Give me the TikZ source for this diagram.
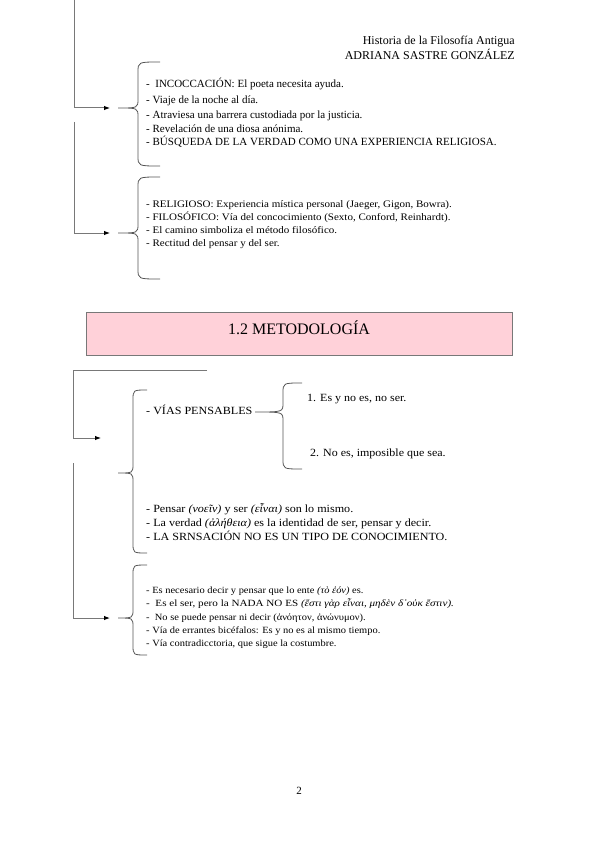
\documentclass[tikz,border=0pt]{standalone}
\usepackage{graphicx}
\usepackage{fontspec}
\setmainfont{Liberation Serif}
\usetikzlibrary{arrows.meta}
\definecolor{linegray}{RGB}{120,120,120}
\definecolor{bracegray}{RGB}{85,85,85}
\definecolor{pinkfill}{RGB}{255,209,217}
\definecolor{boxborder}{RGB}{120,120,120}
\newcommand\lbrc[6]{% tipx, tipy, vx, endx, top, bottom
  \draw[bracestyle] (#4,#5) .. controls (#3,#5) .. (#3,#5+10) -- (#3,#2-9)
    .. controls (#3,#2) .. (#1,#2) .. controls (#3,#2) .. (#3,#2+9)
    -- (#3,#6-10) .. controls (#3,#6) .. (#4,#6);}
\newcommand\hs[2]{\scalebox{#1}[1]{#2}}
\begin{document}
\begin{tikzpicture}[x=1pt,y=-1pt,
  conn/.style={draw=linegray,line width=1pt},
  arr/.style={conn,-{Latex[length=6pt,width=4.5pt,color=black]}},
  bracestyle/.style={draw=bracegray,line width=0.8pt},
  txt/.style={anchor=base west,inner sep=0pt,font=\fontsize{11}{13}\selectfont},
  txts/.style={anchor=base west,inner sep=0pt,font=\fontsize{10}{12}\selectfont},
  txtxs/.style={anchor=base west,inner sep=0pt,font=\fontsize{9.5}{11}\selectfont},
  hdr/.style={anchor=base east,inner sep=0pt,font=\fontsize{12}{14}\selectfont}]
\useasboundingbox (0,0) rectangle (599,848);
% header
\node[hdr] (h1) at (515,45) {Historia de la Filosofía Antigua};
\node[hdr] (h2) at (515,60) {ADRIANA SASTRE GONZÁLEZ};
% section 1 connectors
\coordinate (s1a) at (74,0);
\coordinate (s1b) at (74,108);
\coordinate (t1) at (110,108);
\draw[arr] (s1a) -- (s1b) -- (t1);
\coordinate (s2a) at (74,122);
\coordinate (s2b) at (74,233);
\coordinate (t2) at (110,233);
\draw[arr] (s2a) -- (s2b) -- (t2);
% braces section 1
\lbrc{118}{108}{138}{160}{62}{166}
\lbrc{118}{233}{138}{160}{177}{279}
% texts block 1
\node[txt] (a1) at (146,88) {-\ \ INCOCCACIÓN: El poeta necesita ayuda.};
\node[txt] (a2) at (146,103) {- Viaje de la noche al día.};
\node[txt] (a3) at (146,118) {- Atraviesa una barrera custodiada por la justicia.};
\node[txt] (a4) at (146,132) {- Revelación de una diosa anónima.};
\node[txt] (a5) at (146,146) {- BÚSQUEDA DE LA VERDAD COMO UNA EXPERIENCIA RELIGIOSA.};
% texts block 2
\node[txts] (b1) at (146,207.5) {\hs{1.1}{- RELIGIOSO: Experiencia mística personal (Jaeger, Gigon, Bowra).}};
\node[txts] (b2) at (146,220.5) {\hs{1.1}{- FILOSÓFICO: Vía del concocimiento (Sexto, Conford, Reinhardt).}};
\node[txts] (b3) at (146,233.5) {\hs{1.1}{- El camino simboliza el método filosófico.}};
\node[txts] (b4) at (146,246.5) {\hs{1.1}{- Rectitud del pensar y del ser.}};
% title box
\node[draw=boxborder,line width=1pt,fill=pinkfill,minimum width=426pt,minimum height=43pt,inner sep=0pt] (title) at (299,333.5) {};
\node[inner sep=0pt,font=\fontsize{16}{18}\selectfont,anchor=base] (tt) at (299,334) {1.2 METODOLOGÍA};
% section 2 connectors
\coordinate (s3a) at (207,370);
\coordinate (s3b) at (73,370);
\coordinate (s3c) at (73,438);
\coordinate (t3) at (101,438);
\draw[arr] (s3a) -- (s3b) -- (s3c) -- (t3);
\coordinate (s4a) at (73,463);
\coordinate (s4b) at (73,618);
\coordinate (t4) at (110,618);
\draw[arr] (s4a) -- (s4b) -- (t4);
% braces section 2
\lbrc{118}{473}{133}{147}{390}{553}
\lbrc{118}{618}{133}{147}{565}{655}
\lbrc{255}{412}{283}{302}{383}{469}
% texts section 2
\node[txt] (c0) at (146,414) {\hs{1.1}{- VÍAS PENSABLES}};
\node[txt] (d1) at (307,401) {\hs{1.09}{1. Es y no es, no ser.}};
\node[txt] (d2) at (310,456) {\hs{1.09}{2. No es, imposible que sea.}};
\node[txt] (c1) at (146,512) {\hs{1.1}{- Pensar \textit{(νοεῖν)} y ser \textit{(εἶναι)} son lo mismo.}};
\node[txt] (c2) at (146,526) {\hs{1.1}{- La verdad \textit{(ἀλήθεια)} es la identidad de ser, pensar y decir.}};
\node[txt] (c3) at (146,540) {\hs{1.1}{- LA SRNSACIÓN NO ES UN TIPO DE CONOCIMIENTO.}};
\node[txtxs] (e1) at (146,593) {\hs{1.1}{- Es necesario decir y pensar que lo ente \textit{(τὸ ἐόν)} es.}};
\node[txtxs] (e2) at (146,606) {\hs{1.17}{-\ \ Es el ser, pero la NADA NO ES \textit{(ἔστι γὰρ εἶναι, μηδὲν δ᾽οὐκ ἔστιν).}}};
\node[txtxs] (e3) at (146,620) {\hs{1.1}{-\ \ No se puede pensar ni decir (ἀνόητον, ἀνώνυμον).}};
\node[txtxs] (e4) at (146,633) {\hs{1.1}{- Vía de errantes bicéfalos: Es y no es al mismo tiempo.}};
\node[txtxs] (e5) at (146,646) {\hs{1.1}{- Vía contradicctoria, que sigue la costumbre.}};
% page number
\node[inner sep=0pt,anchor=base,font=\fontsize{11}{13}\selectfont] (pg) at (299,794) {2};
\end{tikzpicture}
\end{document}
